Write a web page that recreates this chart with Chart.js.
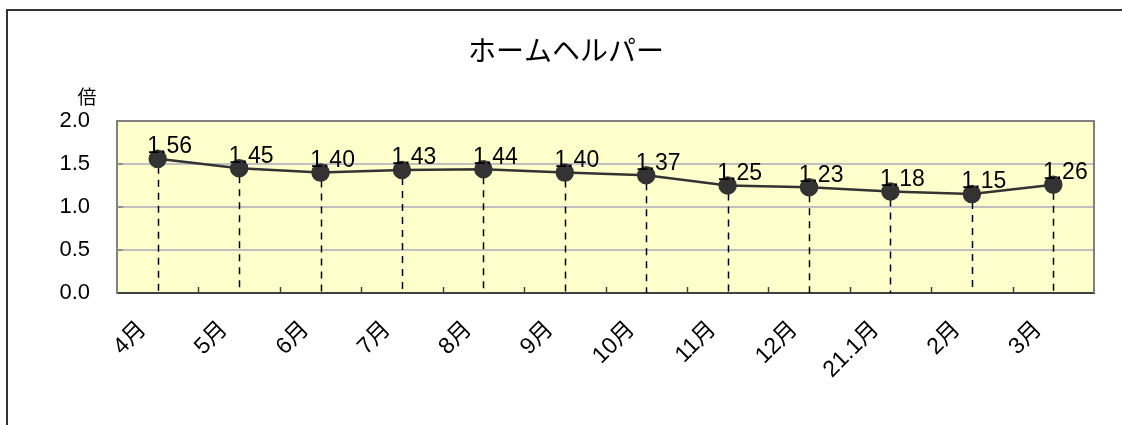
<!DOCTYPE html>
<html>
<head>
<meta charset="utf-8">
<script src="https://cdn.jsdelivr.net/npm/chart.js@4/dist/chart.umd.min.js"></script>
<style>
  html, body { margin: 0; padding: 0; background: #fff; overflow: hidden; }
  #wrap { position: relative; width: 1122px; height: 425px; }
  #frame { position: absolute; left: 6px; top: 9px; width: 1300px; height: 600px;
           border: 2px solid #333; box-sizing: border-box; pointer-events: none; }
  canvas { position: absolute; left: 0; top: 0; }
</style>
</head>
<body>
<div id="wrap">
  <canvas id="c" width="1122" height="425"></canvas>
  <div id="frame"></div>
</div>
<script>
// ホームヘルパー 有効求人倍率（月別）
const months = ['4月', '5月', '6月', '7月', '8月', '9月', '10月', '11月', '12月', '21.1月', '2月', '3月'];
const ratios = [1.56, 1.45, 1.40, 1.43, 1.44, 1.40, 1.37, 1.25, 1.23, 1.18, 1.15, 1.26];
const yTicks = [0, 0.5, 1.0, 1.5, 2.0];
const TITLE = 'ホームヘルパー';
const UNIT = '倍';

const NUM_FONT = '"Liberation Sans", "Noto Sans CJK JP", sans-serif';
const JP_FONT = '"Noto Sans CJK JP", sans-serif';

// ── plot background (yellow) ─────────────────────────────────────────
const plotBg = {
  id: 'plotBg',
  beforeDraw(chart) {
    const { ctx, chartArea: a } = chart;
    ctx.save();
    ctx.fillStyle = '#ffffcc';
    ctx.fillRect(a.left, a.top, a.right - a.left, a.bottom - a.top);
    ctx.restore();
  }
};

// ── dashed drop lines from each point to the axis ────────────────────
const dropLines = {
  id: 'dropLines',
  beforeDatasetsDraw(chart) {
    const { ctx, chartArea: a } = chart;
    const pts = chart.getDatasetMeta(0).data;
    ctx.save();
    ctx.strokeStyle = '#000';
    ctx.lineWidth = 1.5;
    ctx.setLineDash([7, 6]);
    pts.forEach(p => {
      ctx.beginPath();
      ctx.moveTo(Math.round(p.x) + 0.5, p.y + 8);
      ctx.lineTo(Math.round(p.x) + 0.5, a.bottom);
      ctx.stroke();
    });
    ctx.restore();
  }
};

// ── frame, inside tick marks, value labels, title ───────────────────
const decorations = {
  id: 'decorations',
  afterDatasetsDraw(chart) {
    const { ctx, chartArea: a, scales } = chart;
    const xs = scales.x, ys = scales.y;
    ctx.save();
    // top + right border
    ctx.strokeStyle = '#808080';
    ctx.lineWidth = 2;
    ctx.beginPath();
    ctx.moveTo(a.left, a.top);
    ctx.lineTo(a.right, a.top);
    ctx.lineTo(a.right, a.bottom);
    ctx.stroke();
    // x ticks at category boundaries, pointing up
    ctx.strokeStyle = '#404040';
    ctx.lineWidth = 1.5;
    for (let i = 1; i < months.length; i++) {
      const x = Math.round((xs.getPixelForValue(i - 1) + xs.getPixelForValue(i)) / 2) + 0.5;
      ctx.beginPath();
      ctx.moveTo(x, a.bottom);
      ctx.lineTo(x, a.bottom - 6);
      ctx.stroke();
    }
    // y ticks inside
    ctx.strokeStyle = '#909090';
    ctx.lineWidth = 2;
    yTicks.slice(1, -1).forEach(v => {
      const y = ys.getPixelForValue(v);
      ctx.beginPath();
      ctx.moveTo(a.left, y);
      ctx.lineTo(a.left + 6, y);
      ctx.stroke();
    });
    // value labels
    ctx.fillStyle = '#000';
    ctx.font = '23px ' + NUM_FONT;
    ctx.textAlign = 'center';
    ctx.textBaseline = 'middle';
    chart.getDatasetMeta(0).data.forEach((p, i) => {
      ctx.fillText(ratios[i].toFixed(2), p.x + 12, p.y - 12);
    });
    // unit label
    ctx.font = '19px ' + JP_FONT;
    ctx.fillText(UNIT, 87, 97);
    // title
    ctx.font = '28px ' + JP_FONT;
    ctx.fillText(TITLE, 566, 50);
    ctx.restore();
  }
};

new Chart(document.getElementById('c'), {
  type: 'line',
  data: {
    labels: months,
    datasets: [{
      data: ratios,
      borderColor: '#333333',
      borderWidth: 2.5,
      pointRadius: 8,
      pointBackgroundColor: '#333333',
      pointBorderColor: '#333333',
      tension: 0,
    }]
  },
  plugins: [plotBg, dropLines, decorations],
  options: {
    responsive: false,
    animation: false,
    layout: { padding: { left: 0, right: 28, top: 121, bottom: 0 } },
    plugins: {
      legend: { display: false },
      tooltip: { enabled: false },
      title: { display: false },
    },
    scales: {
      x: {
        offset: true,
        grid: { display: false, drawTicks: false },
        border: { display: true, color: '#404040', width: 2 },
        ticks: {
          color: '#000',
          maxRotation: 45,
          minRotation: 45,
          padding: 23,
          labelOffset: -15,
          font: { size: 23, family: NUM_FONT },
        },
        afterFit: s => { s.height = 132; },
      },
      y: {
        min: 0,
        max: 2,
        afterBuildTicks: s => { s.ticks = yTicks.map(v => ({ value: v })); },
        grid: { color: v => (v.tick.value === 0 || v.tick.value === 2) ? 'rgba(0,0,0,0)' : '#c0c0c0', lineWidth: 2, drawTicks: false },
        border: { display: true, color: '#808080', width: 2 },
        ticks: {
          color: '#000',
          padding: 27,
          font: { size: 22, family: NUM_FONT },
          callback: v => Number(v).toFixed(1),
        },
        afterFit: s => { s.width = 117; },
      }
    }
  }
});
</script>
</body>
</html>
